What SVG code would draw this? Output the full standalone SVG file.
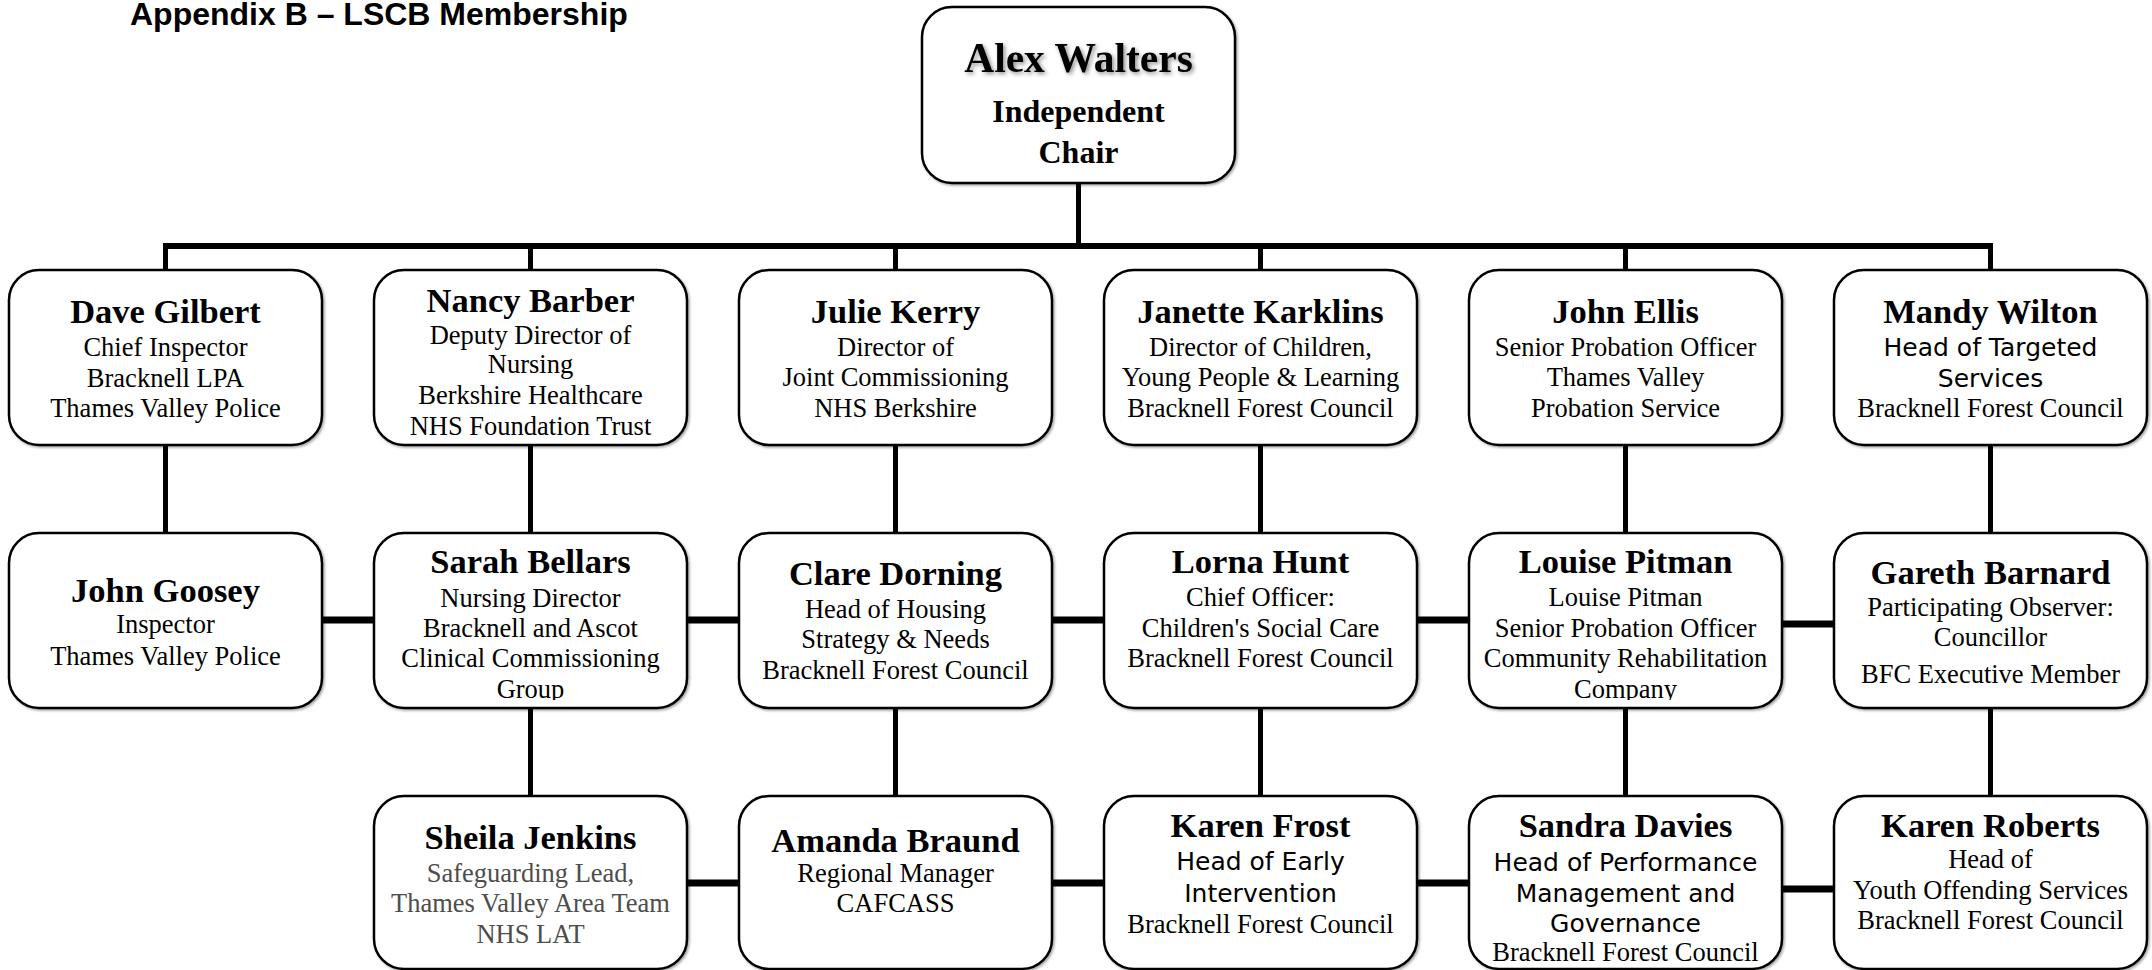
<svg xmlns="http://www.w3.org/2000/svg" width="2152" height="970" viewBox="0 0 2152 970">
<style>
.box{fill:#fff;stroke:#000;stroke-width:2.5;filter:url(#bs)}
.name{font-family:"Liberation Serif","Times New Roman",serif;font-weight:bold;font-size:34.5px;text-anchor:middle;fill:#000}
.body{font-family:"Liberation Serif","Times New Roman",serif;font-size:26.5px;text-anchor:middle;fill:#000}
.sans{font-family:"DejaVu Sans",Verdana,sans-serif;font-size:25px;text-anchor:middle;fill:#000}
.gray{fill:#4d4d4d}
.v{stroke:#000;stroke-width:5;fill:none}
.h{stroke:#000;stroke-width:7;fill:none}
.bus{stroke:#000;stroke-width:6;fill:none}
.title{font-family:"Liberation Sans",Arial,sans-serif;font-weight:bold;font-size:32px;fill:#000}
</style>
<defs>
<filter id="bs" x="-5%" y="-5%" width="110%" height="110%">
<feDropShadow dx="1.5" dy="1.5" stdDeviation="1" flood-color="#000" flood-opacity="0.35"/>
</filter>
<filter id="ts" x="-10%" y="-20%" width="120%" height="150%">
<feDropShadow dx="2" dy="2" stdDeviation="2" flood-color="#000" flood-opacity="0.45"/>
</filter>
<clipPath id="clipSB"><rect x="374" y="533" width="313" height="167"/></clipPath>
<clipPath id="clipLP"><rect x="1469" y="533" width="313" height="167"/></clipPath>
</defs>
<rect width="2152" height="970" fill="#fff"/>
<text class="title" x="130" y="25">Appendix B – LSCB Membership</text>

<g id="connectors">
<line class="v" x1="1078.5" y1="183" x2="1078.5" y2="246"/>
<line class="bus" x1="163" y1="246" x2="1993" y2="246"/>
<line class="v" x1="165.5" y1="246" x2="165.5" y2="270"/>
<line class="v" x1="530.5" y1="246" x2="530.5" y2="270"/>
<line class="v" x1="895.5" y1="246" x2="895.5" y2="270"/>
<line class="v" x1="1260.5" y1="246" x2="1260.5" y2="270"/>
<line class="v" x1="1625.5" y1="246" x2="1625.5" y2="270"/>
<line class="v" x1="1990.5" y1="246" x2="1990.5" y2="270"/>
<line class="v" x1="165.5" y1="445" x2="165.5" y2="533"/>
<line class="v" x1="530.5" y1="445" x2="530.5" y2="533"/>
<line class="v" x1="895.5" y1="445" x2="895.5" y2="533"/>
<line class="v" x1="1260.5" y1="445" x2="1260.5" y2="533"/>
<line class="v" x1="1625.5" y1="445" x2="1625.5" y2="533"/>
<line class="v" x1="1990.5" y1="445" x2="1990.5" y2="533"/>
<line class="v" x1="530.5" y1="708" x2="530.5" y2="796"/>
<line class="v" x1="895.5" y1="708" x2="895.5" y2="796"/>
<line class="v" x1="1260.5" y1="708" x2="1260.5" y2="796"/>
<line class="v" x1="1625.5" y1="708" x2="1625.5" y2="796"/>
<line class="v" x1="1990.5" y1="708" x2="1990.5" y2="796"/>
<line class="h" x1="322" y1="620" x2="375" y2="620"/>
<line class="h" x1="687" y1="620" x2="740" y2="620"/>
<line class="h" x1="1052" y1="620" x2="1105" y2="620"/>
<line class="h" x1="1417" y1="620" x2="1470" y2="620"/>
<line class="h" x1="1782" y1="624" x2="1835" y2="624"/>
<line class="h" x1="687" y1="883" x2="740" y2="883"/>
<line class="h" x1="1052" y1="883" x2="1105" y2="883"/>
<line class="h" x1="1417" y1="883" x2="1470" y2="883"/>
<line class="h" x1="1782" y1="889" x2="1835" y2="889"/>
</g>

<g id="alex-walters">
<rect class="box" x="922" y="7" width="313" height="176" rx="30"/>
<text class="name" x="1078.5" y="72" style="font-size:41.5px;filter:url(#ts)">Alex Walters</text>
<text class="name" x="1078.5" y="122" style="font-size:32px">Independent</text>
<text class="name" x="1078.5" y="163" style="font-size:32px">Chair</text>
</g>

<g id="dave-gilbert">
<rect class="box" x="9" y="270" width="313" height="175" rx="30"/>
<text class="name" x="165.5" y="323">Dave Gilbert</text>
<text class="body" x="165.5" y="356">Chief Inspector</text>
<text class="body" x="165.5" y="387">Bracknell LPA</text>
<text class="body" x="165.5" y="417">Thames Valley Police</text>
</g>

<g id="nancy-barber">
<rect class="box" x="374" y="270" width="313" height="175" rx="30"/>
<text class="name" x="530.5" y="312">Nancy Barber</text>
<text class="body" x="530.5" y="344">Deputy Director of</text>
<text class="body" x="530.5" y="373">Nursing</text>
<text class="body" x="530.5" y="404">Berkshire Healthcare</text>
<text class="body" x="530.5" y="435">NHS Foundation Trust</text>
</g>

<g id="julie-kerry">
<rect class="box" x="739" y="270" width="313" height="175" rx="30"/>
<text class="name" x="895.5" y="323">Julie Kerry</text>
<text class="body" x="895.5" y="356">Director of</text>
<text class="body" x="895.5" y="386">Joint Commissioning</text>
<text class="body" x="895.5" y="417">NHS Berkshire</text>
</g>

<g id="janette-karklins">
<rect class="box" x="1104" y="270" width="313" height="175" rx="30"/>
<text class="name" x="1260.5" y="323">Janette Karklins</text>
<text class="body" x="1260.5" y="356">Director of Children,</text>
<text class="body" x="1260.5" y="386">Young People &amp; Learning</text>
<text class="body" x="1260.5" y="417">Bracknell Forest Council</text>
</g>

<g id="john-ellis">
<rect class="box" x="1469" y="270" width="313" height="175" rx="30"/>
<text class="name" x="1625.5" y="323">John Ellis</text>
<text class="body" x="1625.5" y="356">Senior Probation Officer</text>
<text class="body" x="1625.5" y="386">Thames Valley</text>
<text class="body" x="1625.5" y="417">Probation Service</text>
</g>

<g id="mandy-wilton">
<rect class="box" x="1834" y="270" width="313" height="175" rx="30"/>
<text class="name" x="1990.5" y="323">Mandy Wilton</text>
<text class="sans" x="1990.5" y="356">Head of Targeted</text>
<text class="sans" x="1990.5" y="387">Services</text>
<text class="body" x="1990.5" y="417">Bracknell Forest Council</text>
</g>

<g id="john-goosey">
<rect class="box" x="9" y="533" width="313" height="175" rx="30"/>
<text class="name" x="165.5" y="602">John Goosey</text>
<text class="body" x="165.5" y="633">Inspector</text>
<text class="body" x="165.5" y="665">Thames Valley Police</text>
</g>

<g id="sarah-bellars">
<rect class="box" x="374" y="533" width="313" height="175" rx="30"/>
<g clip-path="url(#clipSB)">
<text class="name" x="530.5" y="573">Sarah Bellars</text>
<text class="body" x="530.5" y="607">Nursing Director</text>
<text class="body" x="530.5" y="637">Bracknell and Ascot</text>
<text class="body" x="530.5" y="667">Clinical Commissioning</text>
<text class="body" x="530.5" y="698">Group</text>
</g>
</g>

<g id="clare-dorning">
<rect class="box" x="739" y="533" width="313" height="175" rx="30"/>
<text class="name" x="895.5" y="585">Clare Dorning</text>
<text class="body" x="895.5" y="618">Head of Housing</text>
<text class="body" x="895.5" y="648">Strategy &amp; Needs</text>
<text class="body" x="895.5" y="679">Bracknell Forest Council</text>
</g>

<g id="lorna-hunt">
<rect class="box" x="1104" y="533" width="313" height="175" rx="30"/>
<text class="name" x="1260.5" y="573">Lorna Hunt</text>
<text class="body" x="1260.5" y="606">Chief Officer:</text>
<text class="body" x="1260.5" y="637">Children's Social Care</text>
<text class="body" x="1260.5" y="667">Bracknell Forest Council</text>
</g>

<g id="louise-pitman">
<rect class="box" x="1469" y="533" width="313" height="175" rx="30"/>
<g clip-path="url(#clipLP)">
<text class="name" x="1625.5" y="573">Louise Pitman</text>
<text class="body" x="1625.5" y="606">Louise Pitman</text>
<text class="body" x="1625.5" y="637">Senior Probation Officer</text>
<text class="body" x="1625.5" y="667">Community Rehabilitation</text>
<text class="body" x="1625.5" y="698">Company</text>
</g>
</g>

<g id="gareth-barnard">
<rect class="box" x="1834" y="533" width="313" height="175" rx="30"/>
<text class="name" x="1990.5" y="584">Gareth Barnard</text>
<text class="body" x="1990.5" y="616">Participating Observer:</text>
<text class="body" x="1990.5" y="646">Councillor</text>
<text class="body" x="1990.5" y="683">BFC Executive Member</text>
</g>

<g id="sheila-jenkins">
<rect class="box" x="374" y="796" width="313" height="173" rx="30"/>
<text class="name" x="530.5" y="849">Sheila Jenkins</text>
<text class="body gray" x="530.5" y="882">Safeguarding Lead,</text>
<text class="body gray" x="530.5" y="912">Thames Valley Area Team</text>
<text class="body gray" x="530.5" y="943">NHS LAT</text>
</g>

<g id="amanda-braund">
<rect class="box" x="739" y="796" width="313" height="173" rx="30"/>
<text class="name" x="895.5" y="852">Amanda Braund</text>
<text class="body" x="895.5" y="882">Regional Manager</text>
<text class="body" x="895.5" y="912">CAFCASS</text>
</g>

<g id="karen-frost">
<rect class="box" x="1104" y="796" width="313" height="173" rx="30"/>
<text class="name" x="1260.5" y="837">Karen Frost</text>
<text class="sans" x="1260.5" y="870">Head of Early</text>
<text class="sans" x="1260.5" y="902">Intervention</text>
<text class="body" x="1260.5" y="933">Bracknell Forest Council</text>
</g>

<g id="sandra-davies">
<rect class="box" x="1469" y="796" width="313" height="173" rx="30"/>
<text class="name" x="1625.5" y="837">Sandra Davies</text>
<text class="sans" x="1625.5" y="871">Head of Performance</text>
<text class="sans" x="1625.5" y="902">Management and</text>
<text class="sans" x="1625.5" y="932">Governance</text>
<text class="body" x="1625.5" y="961">Bracknell Forest Council</text>
</g>

<g id="karen-roberts">
<rect class="box" x="1834" y="796" width="313" height="173" rx="30"/>
<text class="name" x="1990.5" y="837">Karen Roberts</text>
<text class="body" x="1990.5" y="868">Head of</text>
<text class="body" x="1990.5" y="899">Youth Offending Services</text>
<text class="body" x="1990.5" y="929">Bracknell Forest Council</text>
</g>
</svg>
